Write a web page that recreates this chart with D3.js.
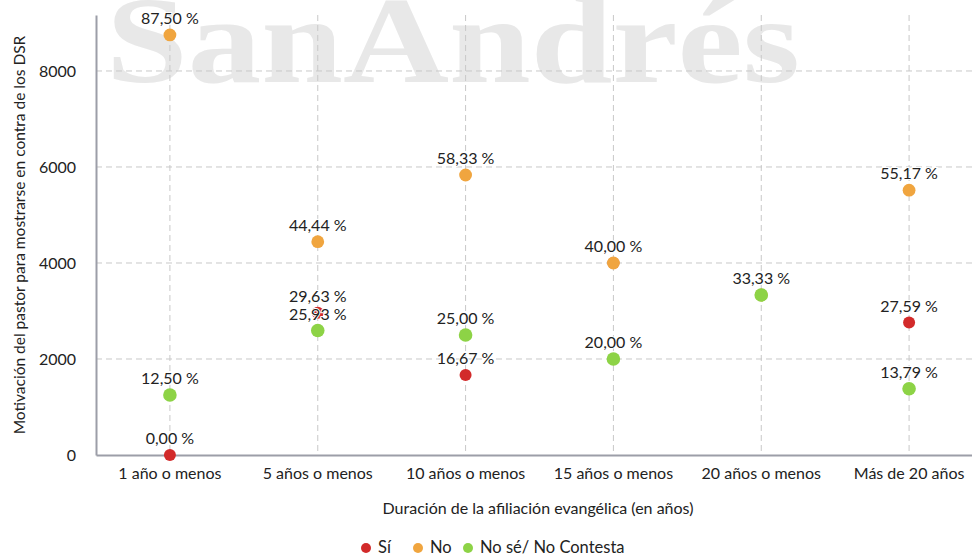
<!DOCTYPE html>
<html>
<head>
<meta charset="utf-8">
<script src="https://cdn.jsdelivr.net/npm/d3@7"></script>
<style>
  body { margin: 0; background: #fff; }
  svg { display: block; font-family: Lato, "Noto Sans", sans-serif; }
</style>
</head>
<body>
<script>
// -------------------- DATA --------------------
var categories = ["1 año o menos", "5 años o menos", "10 años o menos",
                  "15 años o menos", "20 años o menos", "Más de 20 años"];
var seriesNames = ["Sí", "No", "No sé/ No Contesta"];
var siValues    = [0, 2963, 1667, 4000, 3333, 2759];
var noValues    = [8750, 4444, 5833, 4000, 3333, 5517];
var nsncValues  = [1250, 2593, 2500, 2000, 3333, 1379];
var yTicks = [0, 2000, 4000, 6000, 8000];

// -------------------- DIMENSIONS --------------------
var w = 972, h = 556;
var margin = { top: 15, right: -11, bottom: 101, left: 96 };
var innerW = w - margin.left - margin.right;
var innerH = h - margin.top - margin.bottom;

var colors = ["#d22a2a", "#f0a53f", "#8dd346"];

var svg = d3.select("body").append("svg")
  .attr("width", w).attr("height", h);

// watermark
svg.append("text")
  .attr("x", 106).attr("y", 82)
  .attr("font-family", "'Liberation Serif', 'DejaVu Serif', serif")
  .attr("font-weight", "bold")
  .attr("font-size", 122)
  .attr("textLength", 694)
  .attr("lengthAdjust", "spacingAndGlyphs")
  .attr("fill", "#e8e8e8")
  .text("SanAndrés");

var g = svg.append("g")
  .attr("transform", "translate(" + margin.left + "," + margin.top + ")");

// -------------------- SCALES --------------------
var x = d3.scaleBand().domain(categories).range([0, innerW]);
var y = d3.scaleLinear().domain([0, 9166]).range([innerH, 0]);
var cx = function(c) { return x(c) + x.bandwidth() / 2; };

// grid
g.selectAll(".hgrid").data(yTicks.slice(1)).enter().append("line")
  .attr("x1", 0).attr("x2", w)
  .attr("y1", function(d){ return y(d); }).attr("y2", function(d){ return y(d); })
  .attr("stroke", "#c8c8c8").attr("stroke-dasharray", "6,4");
g.selectAll(".vgrid").data(categories).enter().append("line")
  .attr("x1", cx).attr("x2", cx)
  .attr("y1", 0).attr("y2", innerH)
  .attr("stroke", "#c8c8c8").attr("stroke-dasharray", "6,4");

// axes
var yAxis = g.append("g").call(d3.axisLeft(y).tickValues(yTicks).tickFormat(d3.format("d"))
  .tickSize(0).tickPadding(20));
yAxis.select(".domain").attr("stroke", "#9c9ea8").attr("stroke-width", 2);
yAxis.selectAll("text").attr("font-size", 16).attr("fill", "#222").attr("font-family", "Lato");

var xAxis = g.append("g").attr("transform", "translate(0," + innerH + ")")
  .call(d3.axisBottom(x).tickSize(0).tickPadding(13));
xAxis.select(".domain").attr("stroke", "#9c9ea8").attr("stroke-width", 2);
xAxis.selectAll("text").attr("font-size", 16).attr("fill", "#222").attr("font-family", "Lato");

// axis titles
svg.append("text")
  .attr("transform", "translate(25,235) rotate(-90)")
  .attr("text-anchor", "middle").attr("font-size", 15.5).attr("fill", "#222")
  .text("Motivación del pastor para mostrarse en contra de los DSR");
svg.append("text")
  .attr("x", 538).attr("y", 514)
  .attr("text-anchor", "middle").attr("font-size", 16).attr("fill", "#222")
  .text("Duración de la afiliación evangélica (en años)");

// -------------------- POINTS --------------------
var allSeries = [siValues, noValues, nsncValues];
var pts = g.append("g"), labels = g.append("g");
var fmt = function(v) { return (v / 100).toFixed(2).replace(".", ",") + " %"; };

allSeries.forEach(function(vals, si) {
  pts.selectAll(".p" + si).data(vals).enter().append("circle")
    .attr("cx", function(d, i){ return cx(categories[i]); })
    .attr("cy", function(d){ return y(d); })
    .attr("r", 6 + si * 0.4)
    .attr("fill", colors[si]);

  labels.selectAll(".l" + si).data(vals).enter().append("text")
    .attr("x", function(d, i){ return cx(categories[i]); })
    .attr("y", function(d){ return y(d) - 11; })
    .attr("text-anchor", "middle")
    .attr("font-size", 16).attr("fill", "#222")
    .attr("stroke", "#fff").attr("stroke-width", 2).attr("paint-order", "stroke")
    .text(fmt);
});

// -------------------- LEGEND --------------------
var legendX = [366, 418, 468];
var legend = svg.append("g");
seriesNames.forEach(function(name, i) {
  legend.append("circle").attr("cx", legendX[i]).attr("cy", 548).attr("r", 5).attr("fill", colors[i]);
  legend.append("text").attr("x", legendX[i] + 12).attr("y", 553)
    .attr("font-size", 16.5).attr("fill", "#222").text(name);
});
</script>
</body>
</html>
